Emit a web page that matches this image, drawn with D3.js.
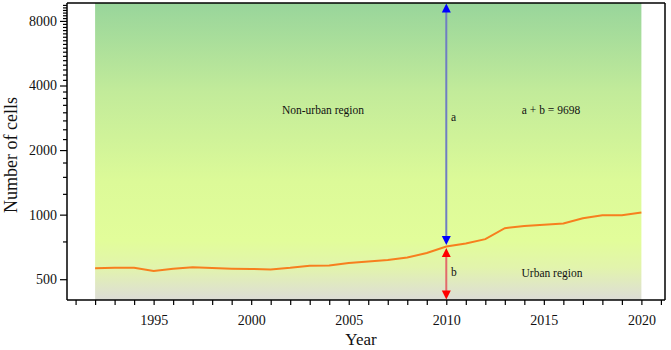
<!DOCTYPE html>
<html><head><meta charset="utf-8">
<script src="https://cdn.jsdelivr.net/npm/d3@7"></script>
<style>body{margin:0;background:#fff}svg{display:block}text{font-family:"Liberation Serif","Times New Roman",serif !important;fill:#111}</style>
</head><body><svg id="c" width="671" height="350"></svg>
<script>
const years = [1992,1993,1994,1995,1996,1997,1998,1999,2000,2001,2002,2003,2004,2005,2006,2007,2008,2009,2010,2011,2012,2013,2014,2015,2016,2017,2018,2019,2020];
const cells = [562,565,566,546,560,568,564,560,558,555,565,578,579,595,605,614,631,662,710,733,769,865,886,898,909,962,994,994,1023];
const yMajor = [500,1000,2000,4000,8000];
const xLabels = [1995,2000,2005,2010,2015,2020];
const total = 9698;
const markYear = 2010;

const svg = d3.select("#c");
const L = 67, R = 665, T = 3, B = 300;
const x = d3.scaleLinear().domain([1990.56, 2021.21]).range([L, R]);
const y = d3.scaleLog().domain([400, total]).range([B, T]);

const defs = svg.append("defs");
const g = defs.append("linearGradient").attr("id","bg").attr("x1",0).attr("y1",0).attr("x2",0).attr("y2",1);
[[0,"#98d59b"],[0.3,"#c2eb9a"],[0.6,"#dcfa98"],[0.8,"#e2fd9a"],[0.89,"#e2f4ac"],[0.96,"#dfe5c8"],[1,"#dcdcd6"]]
  .forEach(([o,c])=>g.append("stop").attr("offset",o).attr("stop-color",c));

svg.append("rect").attr("x",x(years[0])).attr("y",T).attr("width",x(years[years.length-1])-x(years[0])).attr("height",B-T).attr("fill","url(#bg)");

svg.append("path").datum(years.map((yr,i)=>[yr,cells[i]]))
  .attr("d",d3.line().x(d=>x(d[0])).y(d=>y(d[1])))
  .attr("fill","none").attr("stroke","#f77f1e").attr("stroke-width",2);

const bVal = cells[years.indexOf(markYear)];
const ax = x(markYear), yl = y(bVal);
svg.append("line").attr("x1",ax).attr("x2",ax).attr("y1",y(total)+6).attr("y2",yl-6).attr("stroke","#6f7ec2").attr("stroke-width",2);
svg.append("line").attr("x1",ax).attr("x2",ax).attr("y1",yl+6).attr("y2",B-6).attr("stroke","#e26a6a").attr("stroke-width",2);
function head(tipY, dir, col){
  const h=9, w=4.5;
  svg.append("path").attr("d",`M${ax},${tipY} L${ax-w},${tipY-dir*h} L${ax+w},${tipY-dir*h} Z`).attr("fill",col);
}
head(y(total)+0.5,-1,"#0000ff");
head(yl-1.5,1,"#0000ff");
head(yl+1.5,-1,"#ff0000");
head(B-0.5,1,"#ff0000");

const ann = [["Non-urban region",323,114,"middle"],["a",451,121,"start"],["a + b = 9698",551,114,"middle"],["b",451,276,"start"],["Urban region",552,277,"middle"]];
ann.forEach(([t,xx,yy,a])=>svg.append("text").attr("x",xx).attr("y",yy).attr("text-anchor",a).attr("font-size",11.5).text(t));

svg.append("line").attr("x1",L).attr("x2",R).attr("y1",T).attr("y2",T).attr("stroke","#000").attr("stroke-width",1.5);
svg.append("line").attr("x1",R).attr("x2",R).attr("y1",T).attr("y2",B).attr("stroke","#000").attr("stroke-width",1.5);

const minor = d3.range(500, total, 250).filter(v=>!yMajor.includes(v));
const ya = svg.append("g").attr("transform",`translate(${L},0)`);
ya.call(d3.axisLeft(y).tickValues(minor).tickSize(4).tickFormat(""));
ya.select(".domain").remove();
const yb = svg.append("g").attr("transform",`translate(${L},0)`);
yb.call(d3.axisLeft(y).tickValues(yMajor).tickSize(7).tickPadding(3).tickFormat(d3.format("d")).tickSizeOuter(0));
svg.selectAll("g .tick line").attr("stroke","#000").attr("stroke-width",1.2);
yb.select(".domain").attr("stroke","#000").attr("stroke-width",1.5).attr("d",`M0,${T}V${B}`);
yb.selectAll("text").attr("font-size",14).attr("fill","#111");

const xa = svg.append("g").attr("transform",`translate(0,${B})`);
xa.call(d3.axisBottom(x).tickValues(d3.range(1991,2022)).tickSize(5).tickFormat("").tickSizeOuter(0));
xa.select(".domain").attr("stroke","#000").attr("stroke-width",1.5).attr("d",`M${L},0H${R}`);
xa.selectAll(".tick line").attr("stroke","#000").attr("stroke-width",1.2);
const xb = svg.append("g").attr("transform",`translate(0,${B})`);
xb.call(d3.axisBottom(x).tickValues(xLabels).tickSize(5).tickPadding(10).tickFormat(d3.format("d")));
xb.select(".domain").remove();
xb.selectAll(".tick line").remove();
xb.selectAll("text").attr("font-size",14).attr("fill","#111");

svg.append("text").attr("x",361).attr("y",345).attr("text-anchor","middle").attr("font-size",17).text("Year");
svg.append("text").attr("transform","translate(17,155) rotate(-90)").attr("text-anchor","middle").attr("font-size",18).text("Number of cells");
</script></body></html>
